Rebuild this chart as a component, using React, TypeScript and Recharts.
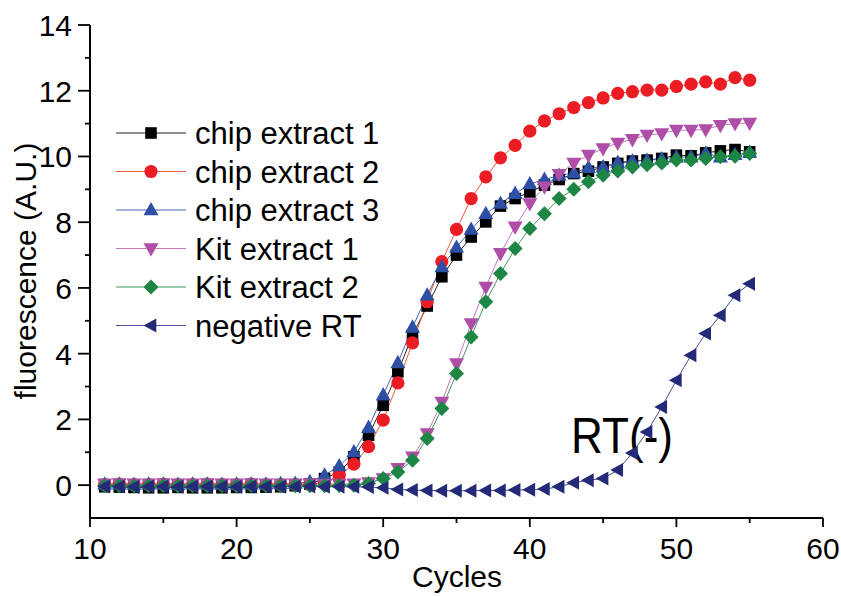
import React from "react";
import { Legend, Line, LineChart, XAxis, YAxis, Customized } from "recharts";

// qPCR amplification curves.

const cycles = [
  11, 12, 13, 14, 15, 16, 17, 18, 19, 20, 21, 22, 23, 24, 25, 26, 27, 28, 29, 30, 31, 32, 33,
  34, 35, 36, 37, 38, 39, 40, 41, 42, 43, 44, 45, 46, 47, 48, 49, 50, 51, 52, 53, 54, 55,
];

const chip1 = [
  -0.05, -0.06, -0.07, -0.08, -0.08, -0.07, -0.08, -0.08, -0.08, -0.07, -0.07, -0.06, -0.05, -0.02,
  0.03, 0.2, 0.4, 0.86, 1.52, 2.43, 3.45, 4.56, 5.45, 6.34, 7.0, 7.55, 8.01, 8.49, 8.72, 8.92, 9.13,
  9.3, 9.48, 9.55, 9.68, 9.79, 9.86, 9.89, 9.94, 10.04, 10.02, 10.11, 10.17, 10.21, 10.14,
];

const chip2 = [
  0.02, 0.03, 0.02, 0.02, 0.03, 0.02, 0.02, 0.03, 0.02, 0.02, 0.03, 0.02, 0.02, 0.02, 0.02, 0.06,
  0.3, 0.64, 1.17, 1.98, 3.11, 4.33, 5.58, 6.8, 7.78, 8.72, 9.38, 9.96, 10.34, 10.77, 11.08, 11.3,
  11.49, 11.64, 11.78, 11.92, 11.97, 12.02, 12.02, 12.13, 12.2, 12.27, 12.2, 12.4, 12.32,
];

const chip3 = [
  0.03, 0.03, 0.02, 0.03, 0.03, 0.02, 0.03, 0.03, 0.02, 0.03, 0.03, 0.03, 0.04, 0.05, 0.1, 0.3,
  0.58, 1.01, 1.75, 2.74, 3.72, 4.8, 5.78, 6.64, 7.23, 7.78, 8.26, 8.57, 8.87, 9.16, 9.3, 9.42, 9.5,
  9.66, 9.68, 9.82, 9.86, 9.88, 9.92, 9.98, 9.98, 10.1, 9.98, 10.05, 10.12,
];

const kit1 = [
  0.04, 0.05, 0.04, 0.04, 0.05, 0.04, 0.04, 0.05, 0.04, 0.04, 0.05, 0.04, 0.04, 0.04, 0.04, 0.03,
  0.03, 0.04, 0.08, 0.2, 0.51, 0.86, 1.57, 2.53, 3.7, 4.92, 6.03, 7.05, 7.86, 8.57, 9.08, 9.46, 9.8,
  10.04, 10.24, 10.41, 10.52, 10.65, 10.7, 10.8, 10.8, 10.82, 10.95, 11.0, 11.02,
];

const kit2 = [
  -0.02, -0.02, -0.03, -0.02, -0.02, -0.03, -0.02, -0.02, -0.02, -0.03, -0.02, -0.02, -0.02, -0.02,
  -0.02, -0.02, -0.01, 0.0, 0.05, 0.2, 0.4, 0.76, 1.42, 2.33, 3.4, 4.51, 5.58, 6.44, 7.2, 7.81, 8.26,
  8.72, 9.0, 9.23, 9.43, 9.56, 9.68, 9.75, 9.8, 9.89, 9.89, 9.94, 9.99, 10.01, 10.09,
];

const negRT = [
  -0.04, -0.04, -0.05, -0.04, -0.04, -0.05, -0.04, -0.04, -0.04, -0.05, -0.04, -0.04, -0.05, -0.04,
  -0.04, -0.05, -0.05, -0.05, -0.06, -0.08, -0.13, -0.15, -0.16, -0.17, -0.17, -0.17, -0.16, -0.16,
  -0.15, -0.14, -0.12, -0.05, 0.07, 0.15, 0.2, 0.46, 0.98, 1.62, 2.38, 3.19, 3.95, 4.61, 5.17, 5.78,
  6.13,
];

const xTicks = [10, 15, 20, 25, 30, 35, 40, 45, 50, 55, 60];
const yTicks = [0, 1, 2, 3, 4, 5, 6, 7, 8, 9, 10, 11, 12, 13, 14];

const FONT = "'Liberation Sans', Arial, Helvetica, sans-serif";

type Shape = "square" | "circle" | "up" | "down" | "diamond" | "left";

const SERIES: { key: string; name: string; color: string; line: string; shape: Shape }[] = [
  { key: "chip1", name: "chip extract 1", color: "#000000", line: "#222222", shape: "square" },
  { key: "chip2", name: "chip extract 2", color: "#ec1c24", line: "#f05a3c", shape: "circle" },
  { key: "chip3", name: "chip extract 3", color: "#2d50a5", line: "#4a63b3", shape: "up" },
  { key: "kit1", name: "Kit extract 1", color: "#ae4ea6", line: "#c27ab9", shape: "down" },
  { key: "kit2", name: "Kit extract 2", color: "#1d8645", line: "#3f9960", shape: "diamond" },
  { key: "negRT", name: "negative RT", color: "#252a78", line: "#4a4f92", shape: "left" },
];

const data = cycles.map((c, i) => ({
  cycle: c,
  chip1: chip1[i],
  chip2: chip2[i],
  chip3: chip3[i],
  kit1: kit1[i],
  kit2: kit2[i],
  negRT: negRT[i],
}));

function marker(shape: Shape, color: string, cx: number, cy: number, key?: React.Key) {
  switch (shape) {
    case "square":
      return <rect key={key} x={cx - 5.8} y={cy - 5.8} width={11.6} height={11.6} fill={color} />;
    case "circle":
      return <circle key={key} cx={cx} cy={cy} r={6.6} fill={color} />;
    case "up":
      return <polygon key={key} points={`${cx},${cy - 8} ${cx + 7.5},${cy + 5.3} ${cx - 7.5},${cy + 5.3}`} fill={color} />;
    case "down":
      return <polygon key={key} points={`${cx - 7.5},${cy - 5.3} ${cx + 7.5},${cy - 5.3} ${cx},${cy + 8}`} fill={color} />;
    case "diamond":
      return <polygon key={key} points={`${cx},${cy - 7.5} ${cx + 7.5},${cy} ${cx},${cy + 7.5} ${cx - 7.5},${cy}`} fill={color} />;
    default:
      return <polygon key={key} points={`${cx - 7.5},${cy} ${cx + 5.3},${cy - 7} ${cx + 5.3},${cy + 7}`} fill={color} />;
  }
}

function XTick({ x, y, payload }: any) {
  const major = payload.value % 10 === 0;
  return (
    <g>
      <line x1={x} y1={y} x2={x} y2={y + (major ? 9 : 5)} stroke="#000" strokeWidth={1.8} />
      {major && (
        <text x={x} y={y + 41} textAnchor="middle" fontSize={30} fontFamily={FONT} fill="#000">
          {payload.value}
        </text>
      )}
    </g>
  );
}

function YTick({ x, y, payload }: any) {
  const major = payload.value % 2 === 0;
  return (
    <g>
      <line x1={x} y1={y} x2={x - (major ? 12 : 5)} y2={y} stroke="#000" strokeWidth={1.8} />
      {major && (
        <text x={x - 18} y={y + 11} textAnchor="end" fontSize={30} fontFamily={FONT} fill="#000">
          {payload.value}
        </text>
      )}
    </g>
  );
}

function LegendBox() {
  return (
    <svg width={300} height={240} style={{ display: "block" }}>
      {SERIES.map((s, i) => {
        const cy = 23 + i * 38.5;
        return (
          <g key={s.key}>
            <line x1={6} y1={cy} x2={76} y2={cy} stroke={s.line} strokeWidth={1} />
            {marker(s.shape, s.color, 41, cy)}
            <text x={85} y={cy + 11} fontSize={31} fontFamily={FONT} fill="#000">
              {s.name}
            </text>
          </g>
        );
      })}
    </svg>
  );
}

function Titles() {
  return (
    <g fontFamily={FONT} fill="#000">
      <text x={36} y={271} transform="rotate(-90 36 271)" textAnchor="middle" fontSize={30}>
        fluorescence (A.U.)
      </text>
      <text x={457} y={587} textAnchor="middle" fontSize={30}>
        Cycles
      </text>
      <text x={571} y={453} fontSize={50} textLength={102} lengthAdjust="spacingAndGlyphs">
        RT(-)
      </text>
    </g>
  );
}

export default function App() {
  return (
    <div style={{ width: 841, height: 596, background: "#fff" }}>
      <style>{"body{margin:0}"}</style>
      <LineChart width={841} height={596} data={data} margin={{ top: 25, right: 18, bottom: 18, left: 0 }}>
        <XAxis
          type="number"
          dataKey="cycle"
          domain={[10, 60]}
          ticks={xTicks}
          allowDataOverflow
          height={60}
          tickSize={0}
          tickMargin={0}
          tickLine={false}
          axisLine={{ stroke: "#000", strokeWidth: 2 }}
          tick={<XTick />}
          interval={0}
        />
        <YAxis
          type="number"
          domain={[-1, 14]}
          ticks={yTicks}
          allowDataOverflow
          width={90}
          tickSize={0}
          tickMargin={0}
          tickLine={false}
          axisLine={{ stroke: "#000", strokeWidth: 2 }}
          tick={<YTick />}
          interval={0}
        />
        {SERIES.map((s) => (
          <Line
            key={s.key}
            dataKey={s.key}
            name={s.name}
            type="linear"
            stroke={s.line}
            strokeWidth={1}
            isAnimationActive={false}
            dot={(p: any) => marker(s.shape, s.color, p.cx, p.cy, p.index)}
            activeDot={false}
          />
        ))}
        <Legend
          layout="vertical"
          align="center"
          verticalAlign="middle"
          content={() => <LegendBox />}
          wrapperStyle={{ left: 110, top: 110, width: 300, height: 240 }}
        />
        <Customized component={<Titles />} />
      </LineChart>
    </div>
  );
}
